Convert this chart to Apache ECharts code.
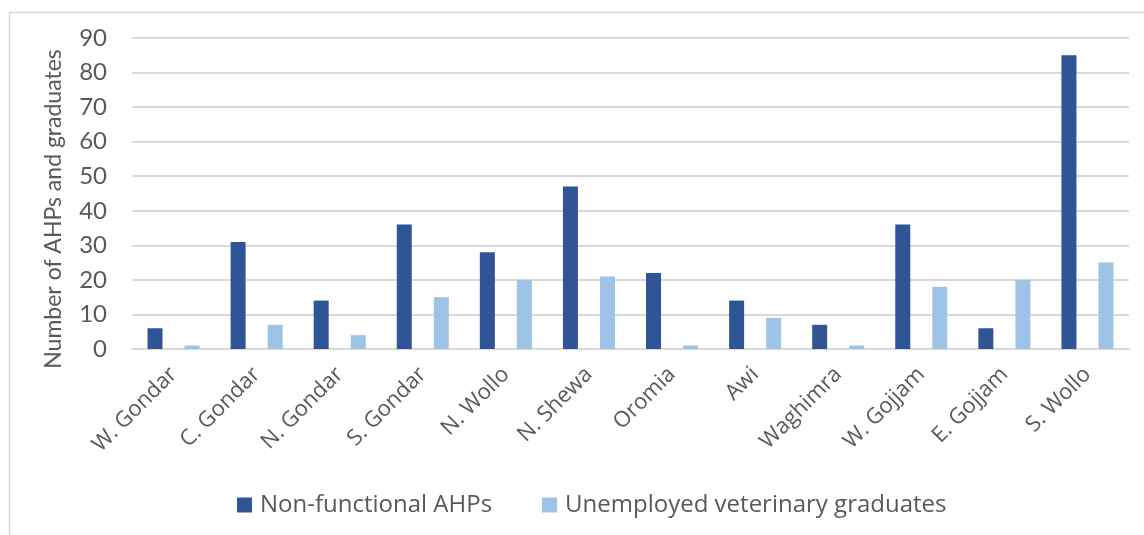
<!DOCTYPE html>
<html>
<head>
<meta charset="utf-8">
<script src="https://cdn.jsdelivr.net/npm/echarts@6/dist/echarts.min.js"></script>
<style>
html,body{margin:0;padding:0;background:#fff;}
#chart{width:1144px;height:535px;}
</style>
</head>
<body>
<div id="chart"></div>
<script>
const categories = ['W. Gondar','C. Gondar','N. Gondar','S. Gondar','N. Wollo','N. Shewa','Oromia','Awi','Waghimra','W. Gojjam','E. Gojjam','S. Wollo'];
const nonFunctionalAHPs = [6, 31, 14, 36, 28, 47, 22, 14, 7, 36, 6, 85];
const unemployedGraduates = [1, 7, 4, 15, 20, 21, 1, 9, 1, 18, 20, 25];
const yTicks = [0, 10, 20, 30, 40, 50, 60, 70, 80, 90];
const yAxisTitle = 'Number of AHPs and graduates';

const chart = echarts.init(document.getElementById('chart'), null, {renderer: 'canvas'});
const lato = 'Lato, sans-serif';
const open = '"Open Sans", sans-serif';
const txt = '#595959';
chart.setOption({
  animation: false,
  backgroundColor: '#fff',
  graphic: [{
    type: 'rect', left: 7, top: 10, z: -1,
    shape: {width: 1200, height: 600},
    style: {fill: 'none', stroke: '#D9D9D9', lineWidth: 1.5}
  }, {
    type: 'text', x: 54, y: 209, rotation: Math.PI / 2,
    style: {text: yAxisTitle, fill: txt, fontSize: 23, fontFamily: lato, align: 'center', verticalAlign: 'middle'}
  }],
  grid: {left: 132, right: 15, top: 38, bottom: 186, containLabel: false},
  legend: {
    bottom: 13, left: 232,
    itemWidth: 15, itemHeight: 15, itemGap: 50,
    icon: 'rect',
    textStyle: {color: txt, fontSize: 24, fontFamily: open, padding: [0, 0, 0, 3]},
    data: ['Non-functional AHPs', 'Unemployed veterinary graduates']
  },
  xAxis: {
    type: 'category',
    data: categories,
    axisLine: {show: true, lineStyle: {color: '#D9D9D9', width: 2}},
    axisTick: {show: false},
    axisLabel: {interval: 0, rotate: 45, margin: 22, color: txt, fontSize: 22, fontFamily: open}
  },
  yAxis: {
    type: 'value',
    min: yTicks[0], max: yTicks[yTicks.length - 1], interval: 10,
    axisLine: {show: false},
    axisTick: {show: false},
    axisLabel: {margin: 25, color: txt, fontSize: 24, fontFamily: lato},
    splitLine: {lineStyle: {color: '#D9D9D9', width: 2}}
  },
  series: [
    {
      name: 'Non-functional AHPs', type: 'bar', data: nonFunctionalAHPs,
      barWidth: 15, barGap: '147%',
      itemStyle: {color: '#2F5597'}
    },
    {
      name: 'Unemployed veterinary graduates', type: 'bar', data: unemployedGraduates,
      barWidth: 15, barGap: '147%',
      itemStyle: {color: '#9DC3E6'}
    }
  ]
});
</script>
</body>
</html>
